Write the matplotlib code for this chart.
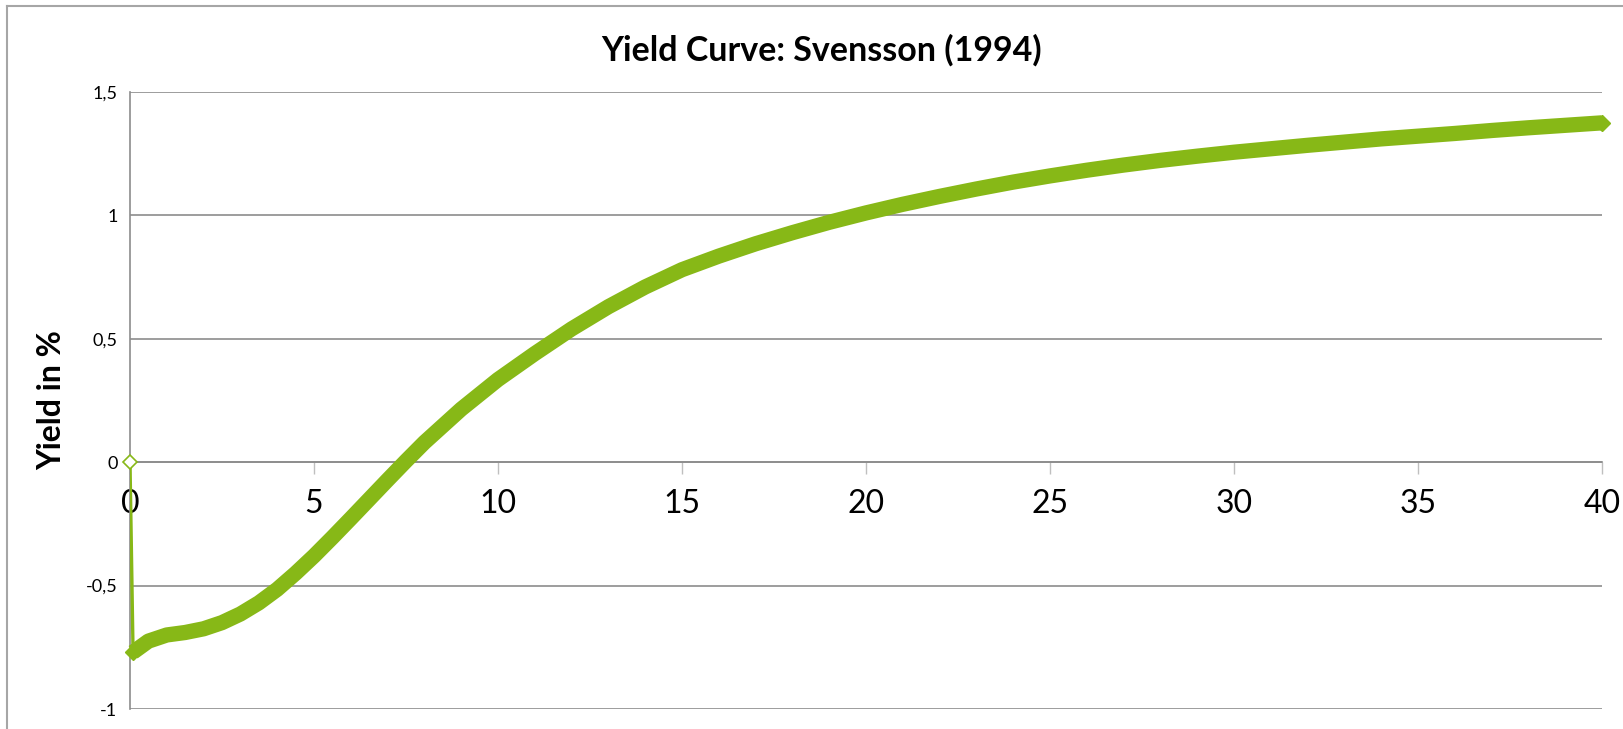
import matplotlib
matplotlib.use("Agg")
import matplotlib.pyplot as plt
from matplotlib.lines import Line2D
from matplotlib.ticker import FuncFormatter, MultipleLocator

plt.rcParams['font.family'] = ['Lato', 'DejaVu Sans']

# maturity in years, yield in %
start_t = [0.0, 0.083]
start_y = [0.0, -0.77]

maturity = [0.083, 0.5, 1, 1.5, 2, 2.5, 3, 3.5, 4, 4.5, 5, 5.5, 6, 6.5, 7, 7.5, 8,
            9, 10, 11, 12, 13, 14, 15, 16, 17, 18, 19, 20, 21, 22, 23, 24, 25,
            26, 27, 28, 29, 30, 31, 32, 33, 34, 35, 36, 37, 38, 39, 40]
yields = [-0.77, -0.725, -0.70, -0.69, -0.675, -0.65, -0.615, -0.57, -0.515, -0.45,
          -0.38, -0.305, -0.228, -0.15, -0.072, 0.005, 0.08,
          0.215, 0.335, 0.44, 0.54, 0.63, 0.71, 0.78, 0.835, 0.885, 0.93, 0.972, 1.01,
          1.045, 1.077, 1.107, 1.135, 1.16, 1.183, 1.204, 1.223, 1.24, 1.256, 1.27,
          1.284, 1.297, 1.31, 1.321, 1.332, 1.344, 1.355, 1.365, 1.375]

x_ticks = [0, 5, 10, 15, 20, 25, 30, 35, 40]

green = '#87B817'
grid_grey = '#8C8C8C'

fig = plt.figure(figsize=(16.24, 7.29), dpi=100)
ax = fig.add_axes([130 / 1624, 1 - 709 / 729, 1472 / 1624, (709 - 92) / 729])

# thin first segment with the hollow point at t=0
ax.plot(start_t, start_y, color=green, lw=2.4, zorder=3)
ax.plot(start_t[:1], start_y[:1], marker='D', ms=7.5, mfc='white', mec=green,
        mew=1.2, ls='none', zorder=4, clip_on=False)

# thick band of the fitted curve
ax.plot(maturity, yields, color=green, lw=11, solid_joinstyle='round',
        solid_capstyle='butt', marker='D', ms=7.8, markevery=[0, len(maturity) - 1],
        mec=green, mfc=green, zorder=3, clip_on=False)

ax.set_xlim(0, 40)
ax.set_ylim(-1, 1.5)
ax.set_xticks(x_ticks)
ax.yaxis.set_major_locator(MultipleLocator(0.5))
ax.yaxis.set_major_formatter(FuncFormatter(lambda v, p: ('%g' % v).replace('.', ',')))

ax.grid(axis='y', color=grid_grey, lw=1.2)
ax.grid(axis='x', visible=False)
ax.set_axisbelow(True)

for s in ['top', 'right']:
    ax.spines[s].set_visible(False)
ax.spines['bottom'].set_position(('data', 0))
ax.spines['bottom'].set_color(grid_grey)
ax.spines['bottom'].set_linewidth(1.2)
ax.spines['left'].set_color(grid_grey)
ax.spines['left'].set_linewidth(1.2)

ax.tick_params(axis='x', direction='out', length=8.5, width=1, color='#BFBFBF',
               labelsize=23, pad=11, labelcolor='black')
ax.tick_params(axis='y', length=0, labelsize=13, pad=9, labelcolor='black')

ax.set_ylabel('Yield in %', fontsize=23, fontweight='bold', va='center')
ax.yaxis.set_label_coords(-78 / 1472, 0.5)

fig.text(822 / 1624, 1 - 50 / 729, 'Yield Curve: Svensson (1994)', ha='center',
         va='center', fontsize=24.5, fontweight='bold')

# chart area border (only left and top edges are visible)
fig.add_artist(Line2D([7 / 1624, 7 / 1624], [0, 1 - 6 / 729], color='#A6A6A6', lw=1.5))
fig.add_artist(Line2D([7 / 1624, 1], [1 - 6 / 729, 1 - 6 / 729], color='#A6A6A6', lw=1.5))

fig.savefig('out.png', dpi=100)
